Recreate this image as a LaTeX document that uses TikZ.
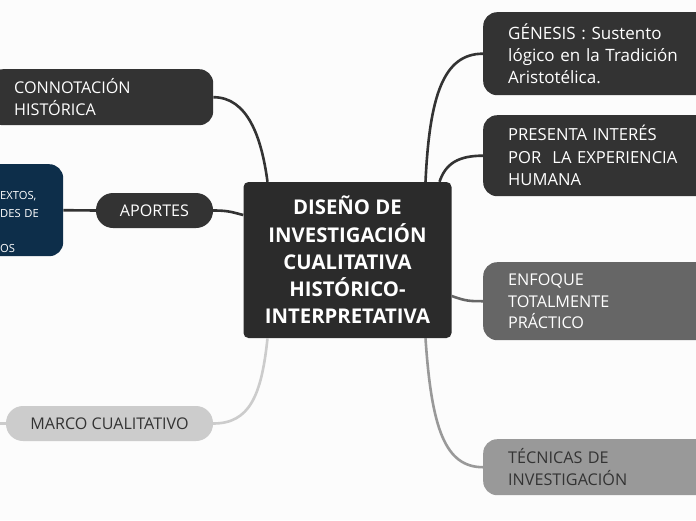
\documentclass[tikz,border=0pt]{standalone}
\usepackage{fontspec}
\setmainfont{Open Sans}
\definecolor{bgc}{HTML}{FCFCFC}
\definecolor{darkbox}{HTML}{333333}
\definecolor{centerbox}{HTML}{2B2B2B}
\definecolor{navybox}{HTML}{0D2E4A}
\definecolor{midbox}{HTML}{666666}
\definecolor{greybox}{HTML}{999999}
\definecolor{lightbox}{HTML}{CCCCCC}
\definecolor{darktext}{HTML}{333333}
\tikzset{
  sidebox/.style={rounded corners=14pt, inner xsep=25pt, inner ysep=4pt, align=left,
    font=\fontsize{16.2}{21.8}\selectfont, text=white, fill=darkbox},
  pillbox/.style={rounded corners=17pt, minimum height=35pt, inner sep=0pt,
    font=\fontsize{16.1}{21.5}\selectfont},
  link/.style={line width=2.6pt, draw=darkbox},
}
\begin{document}
\begin{tikzpicture}[x=1pt,y=-1pt]
\useasboundingbox (0,0) rectangle (696,520);
\fill[bgc] (0,0) rectangle (696,520);

% central node
\node[fill=centerbox, rounded corners=5pt, minimum width=208pt, minimum height=156pt,
  text=white, align=center, font=\bfseries\fontsize{20.3}{27.2}\selectfont, inner sep=0pt]
  (c) at (347.5,260) {DISEÑO DE\\INVESTIGACIÓN\\CUALITATIVA\\HISTÓRICO-\\INTERPRETATIVA};

% right side
\node[sidebox, anchor=north west, minimum height=83pt, text width=185pt,
  font=\fontsize{17}{21.6}\selectfont] (gen) at (483,12)
  {GÉNESIS : Sustento\\lógico en la Tradición\\Aristotélica.};
\node[sidebox, anchor=north west, minimum height=81pt, text width=185pt,
  font=\fontsize{16.6}{22.5}\selectfont] (pres) at (483,115)
  {PRESENTA INTERÉS\\POR\ \ LA EXPERIENCIA\\HUMANA};
\node[sidebox, fill=midbox, anchor=north west, minimum height=78pt, text width=185pt] (enf) at (483,262)
  {ENFOQUE\\TOTALMENTE\\PRÁCTICO};
\node[sidebox, fill=greybox, text=darktext, anchor=north west, minimum height=56pt, text width=185pt] (tec) at (483,439)
  {TÉCNICAS DE\\INVESTIGACIÓN};

% left side
\node[sidebox, anchor=north west, minimum height=56pt, text width=174pt] (conn) at (-11,69)
  {CONNOTACIÓN\\HISTÓRICA};
\node[pillbox, fill=darkbox, text=white, minimum width=117pt] (ap) at (154.5,210.5) {APORTES};
\node[sidebox, fill=navybox, anchor=north west, minimum height=92pt, text width=46pt,
  inner xsep=17pt, inner ysep=0pt, font=\fontsize{11.2}{17.7}\selectfont] (nav) at (-17,164)
  {\mbox{}\\[14pt]EXTOS,\\DES DE\\\mbox{}\\OS};
\node[pillbox, fill=lightbox, text=darktext, minimum width=207pt] (mar) at (109.5,423.5) {MARCO CUALITATIVO};
\coordinate (marl) at (-5,423.5);

% connectors
\draw[link] ([xshift=78pt]c.north) .. controls +(4,-85) and +(-40,0) .. (gen.west);
\draw[link] ([xshift=92pt]c.north) .. controls +(6,-18) and +(-25,0) .. (pres.west);
\draw[link, draw=midbox] ([yshift=-36pt]c.east) .. controls +(14,5) and +(-14,0) .. (enf.west);
\draw[link, draw=greybox] ([xshift=78pt]c.south) .. controls +(6,90) and +(-38,0) .. (tec.west);
\draw[link] (conn.east) .. controls +(34,0) and +(-6,-45) .. ([xshift=-80pt]c.north);
\draw[link] (ap.east) .. controls +(15,0) and +(-12,-3) .. ([yshift=45pt]c.west);
\draw[link] (nav.east) -- (ap.west);
\draw[link, draw=lightbox] ([xshift=-80pt]c.south) .. controls +(-6,58) and +(36,0) .. (mar.east);
\draw[link, draw=lightbox] (mar.west) -- (marl);
\end{tikzpicture}
\end{document}
